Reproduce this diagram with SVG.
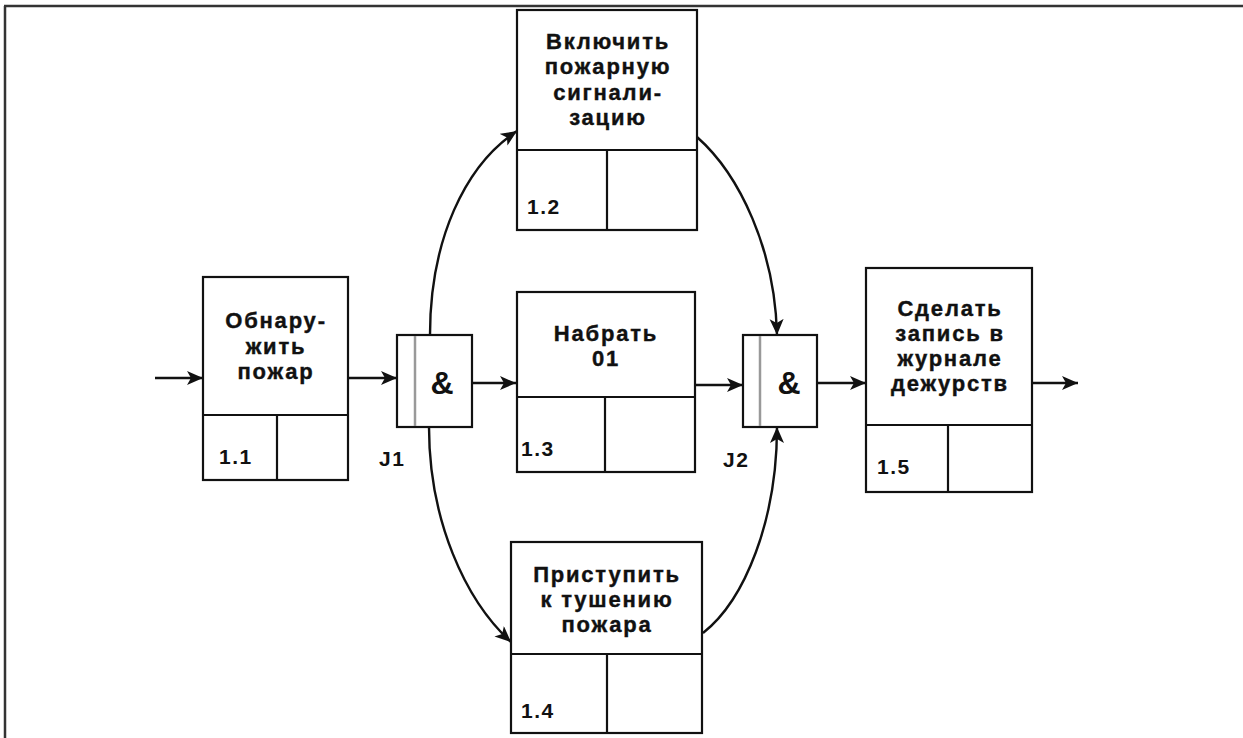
<svg xmlns="http://www.w3.org/2000/svg" width="1243" height="738" viewBox="0 0 1243 738">
<style>
.box{fill:#fff;stroke:#111;stroke-width:2.2}
.div{stroke:#111;stroke-width:2.2;fill:none}
.t{font-family:"Liberation Sans",Arial,sans-serif;font-weight:bold;font-size:22px;fill:#111;text-anchor:middle;letter-spacing:1.8px;stroke:#111;stroke-width:0.4}
.n{font-family:"Liberation Sans",Arial,sans-serif;font-weight:bold;font-size:21px;fill:#111;letter-spacing:1.5px}
.amp{font-family:"Liberation Sans",Arial,sans-serif;font-weight:bold;font-size:32px;fill:#111;text-anchor:middle}
.con{fill:none;stroke:#111;stroke-width:2.4}
.jl{stroke:#999;stroke-width:2.5}
.frame{stroke:#333;stroke-width:2.5;fill:none}
</style>
<defs>
<marker id="ah" markerUnits="userSpaceOnUse" markerWidth="18" markerHeight="16" refX="16" refY="7" orient="auto">
<path d="M0,0 L16,7 L0,14 L4,7 z" fill="#111"/>
</marker>
</defs>
<rect width="1243" height="738" fill="#fff"/>
<g id="frame">
<line class="frame" x1="4" y1="6" x2="1243" y2="6"/>
<line class="frame" x1="5" y1="6" x2="5" y2="738"/>
</g>
<g id="connectors">
<line class="con" x1="155" y1="378" x2="203" y2="378" marker-end="url(#ah)"/>
<line class="con" x1="348" y1="378" x2="397" y2="378" marker-end="url(#ah)"/>
<line class="con" x1="472" y1="383" x2="516" y2="383" marker-end="url(#ah)"/>
<line class="con" x1="695" y1="385" x2="743" y2="385" marker-end="url(#ah)"/>
<line class="con" x1="817" y1="383" x2="866" y2="383" marker-end="url(#ah)"/>
<line class="con" x1="1032" y1="383" x2="1078" y2="383" marker-end="url(#ah)"/>
<path class="con" d="M430,335 C430,240 465,165 517,131" marker-end="url(#ah)"/>
<path class="con" d="M429,427 C429,520 465,600 511,642" marker-end="url(#ah)"/>
<path class="con" d="M697,137 C740,175 775,250 777,335" marker-end="url(#ah)"/>
<path class="con" d="M703,633 C745,600 777,520 777,427" marker-end="url(#ah)"/>
</g>
<g id="n11">
<rect class="box" x="203" y="277" width="145" height="203"/>
<line class="div" x1="203" y1="415" x2="348" y2="415"/>
<line class="div" x1="277" y1="415" x2="277" y2="480"/>
<text class="t" x="276" y="328">Обнару-</text>
<text class="t" x="276" y="354">жить</text>
<text class="t" x="276" y="379">пожар</text>
<text class="n" x="219" y="464">1.1</text>
</g>
<g id="j1">
<rect class="box" x="397" y="335" width="75" height="92"/>
<line class="jl" x1="415" y1="336" x2="415" y2="426"/>
<text class="amp" x="442" y="394">&amp;</text>
<text class="n" x="379" y="466">J1</text>
</g>
<g id="n12">
<rect class="box" x="517" y="10" width="180" height="220"/>
<line class="div" x1="517" y1="150" x2="697" y2="150"/>
<line class="div" x1="607" y1="150" x2="607" y2="230"/>
<text class="t" x="608" y="49">Включить</text>
<text class="t" x="608" y="74">пожарную</text>
<text class="t" x="608" y="100">сигнали-</text>
<text class="t" x="608" y="125">зацию</text>
<text class="n" x="527" y="214">1.2</text>
</g>
<g id="n13">
<rect class="box" x="517" y="292" width="178" height="180"/>
<line class="div" x1="517" y1="397" x2="695" y2="397"/>
<line class="div" x1="605" y1="397" x2="605" y2="472"/>
<text class="t" x="606" y="341">Набрать</text>
<text class="t" x="606" y="366">01</text>
<text class="n" x="521" y="456">1.3</text>
</g>
<g id="n14">
<rect class="box" x="511" y="542" width="191" height="191"/>
<line class="div" x1="511" y1="654" x2="702" y2="654"/>
<line class="div" x1="607" y1="654" x2="607" y2="733"/>
<text class="t" x="607" y="582">Приступить</text>
<text class="t" x="607" y="607">к тушению</text>
<text class="t" x="607" y="632">пожара</text>
<text class="n" x="521" y="718">1.4</text>
</g>
<g id="j2">
<rect class="box" x="743" y="335" width="74" height="92"/>
<line class="jl" x1="760" y1="336" x2="760" y2="426"/>
<text class="amp" x="789" y="394">&amp;</text>
<text class="n" x="723" y="467">J2</text>
</g>
<g id="n15">
<rect class="box" x="866" y="268" width="166" height="224"/>
<line class="div" x1="866" y1="425" x2="1032" y2="425"/>
<line class="div" x1="948" y1="425" x2="948" y2="492"/>
<text class="t" x="950" y="316">Сделать</text>
<text class="t" x="950" y="341">запись в</text>
<text class="t" x="950" y="366">журнале</text>
<text class="t" x="950" y="391">дежурств</text>
<text class="n" x="877" y="474">1.5</text>
</g>
</svg>
